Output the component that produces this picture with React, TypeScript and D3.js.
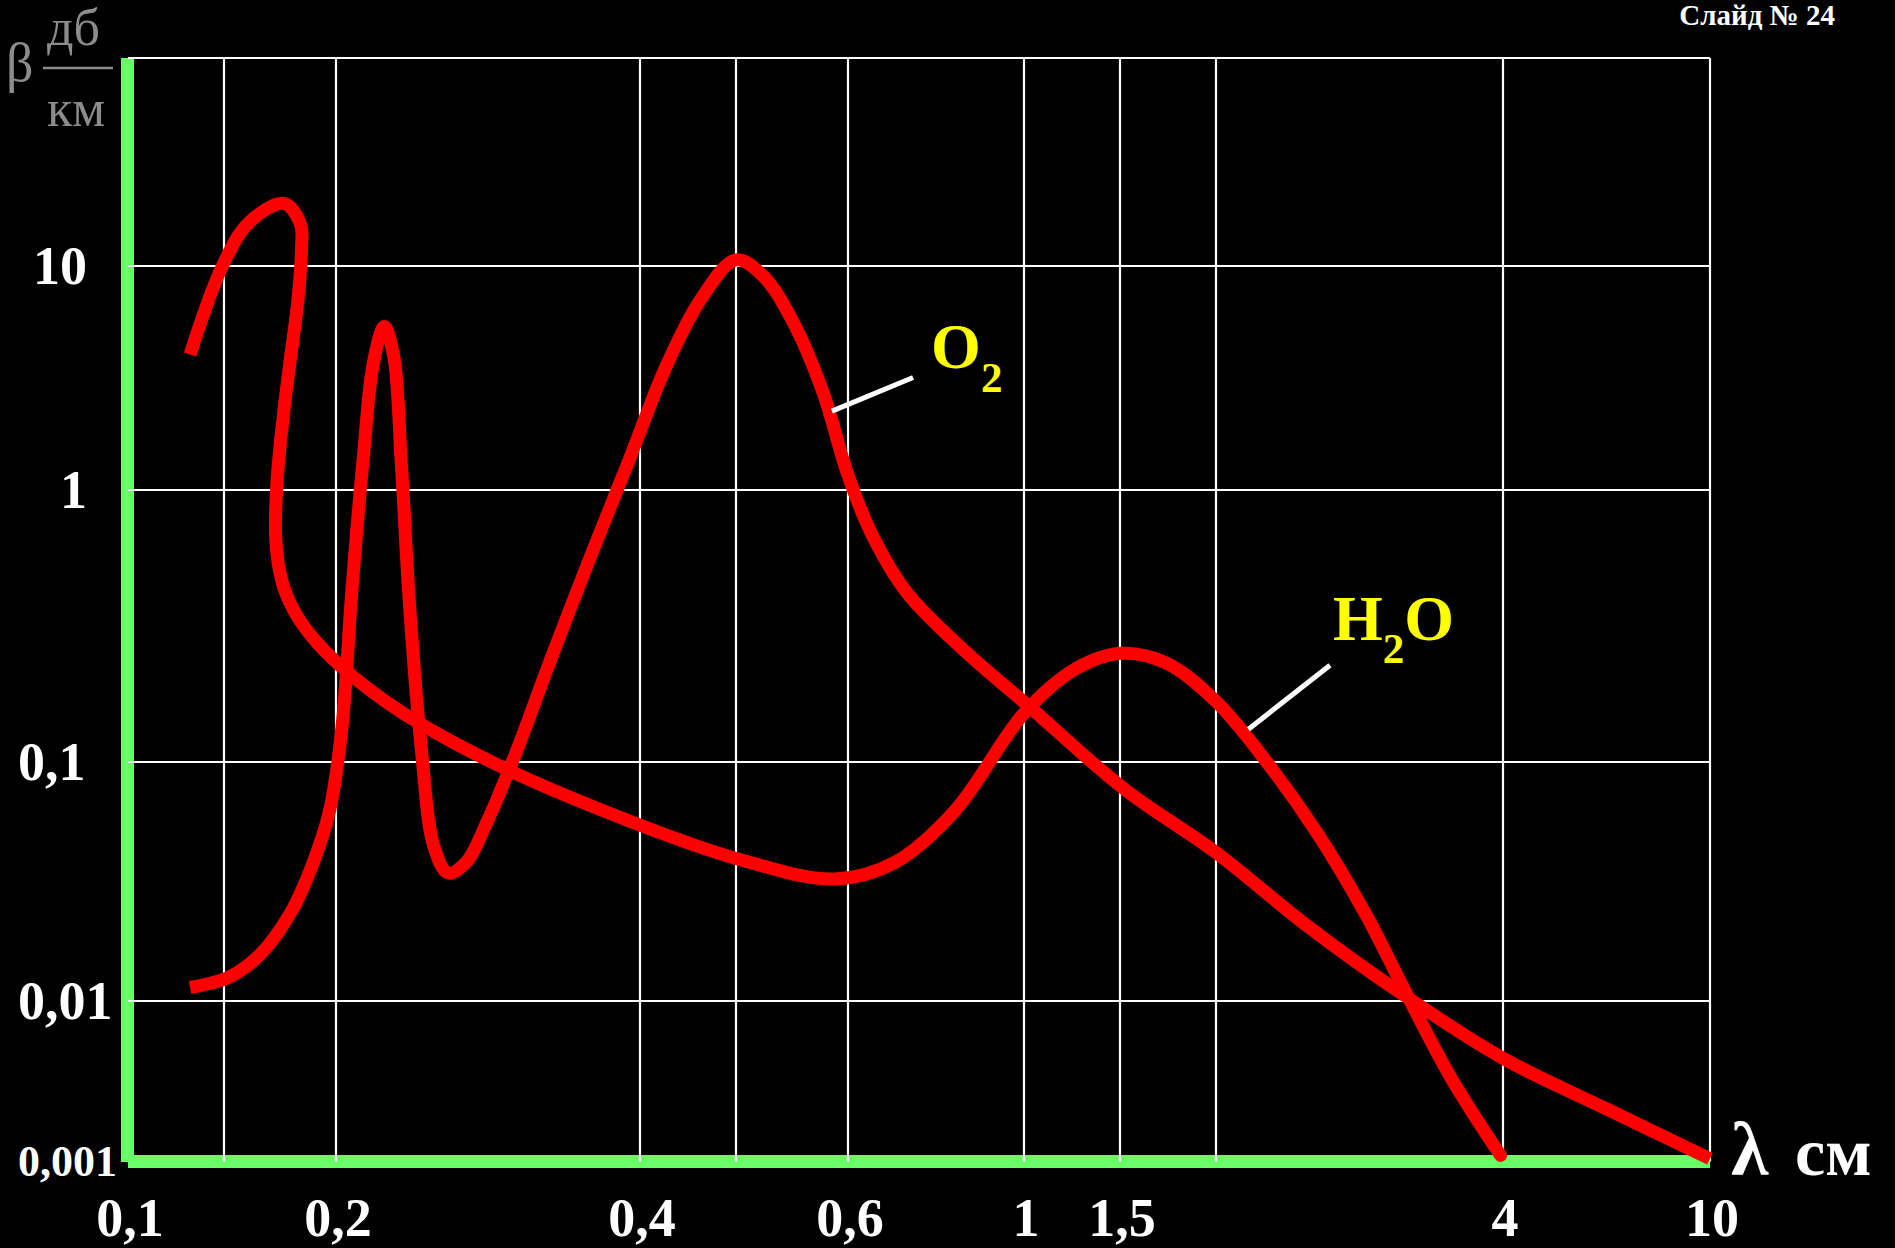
import React from "react";
import * as d3 from "d3";

const W = 1895;
const H = 1248;

// Axis ticks (hand-drawn slide: non-uniform spacing, mapped piecewise)
const xTickValues = [0.1, 0.15, 0.2, 0.4, 0.5, 0.6, 1, 1.5, 2, 4, 10];
const xTickLabels = ["0,1", "", "0,2", "0,4", "", "0,6", "1", "1,5", "", "4", "10"];
const yTickValues = [0.001, 0.01, 0.1, 1, 10, 100];
const yTickLabels = ["0,001", "0,01", "0,1", "1", "10", ""];

// H2O curve (λ in cm, β in dB/km)
const h2oLambda = [0.13, 0.149, 0.16, 0.175, 0.1825, 0.183, 0.1814, 0.178, 0.1746, 0.1718, 0.1713, 0.174, 0.1796, 0.1883, 0.2016, 0.2313, 0.2884, 0.3797, 0.5, 0.587, 0.688, 0.819, 1.0, 1.243, 1.505, 1.725, 2.0, 2.246, 2.559, 2.874, 3.135, 3.521, 3.977];
const h2oBeta = [4.03, 10, 16.2, 20.0, 16.0, 11.9, 7.06, 3.93, 2.11, 1.06, 0.664, 0.464, 0.359, 0.287, 0.227, 0.154, 0.0977, 0.0593, 0.0395, 0.0324, 0.0381, 0.0628, 0.151, 0.22, 0.251, 0.231, 0.167, 0.103, 0.0498, 0.0229, 0.01165, 0.00339, 0.00109];

// O2 curve
const o2Lambda = [0.13, 0.152, 0.1643, 0.178, 0.1883, 0.1968, 0.2028, 0.2073, 0.213, 0.2178, 0.2233, 0.2282, 0.232, 0.2365, 0.243, 0.25, 0.2583, 0.2692, 0.2821, 0.3005, 0.3264, 0.3593, 0.3903, 0.4239, 0.4603, 0.5, 0.5224, 0.548, 0.5763, 0.5989, 0.6412, 0.7121, 0.8485, 1.015, 1.517, 2.0, 2.486, 3.135, 4.0, 6.34, 10];
const o2Beta = [0.0114, 0.0126, 0.01556, 0.0234, 0.0373, 0.0628, 0.136, 0.419, 1.45, 3.7, 5.37, 3.93, 1.365, 0.378, 0.1107, 0.0443, 0.0343, 0.0381, 0.0559, 0.105, 0.239, 0.6, 1.365, 3.47, 7.06, 10.7, 9.05, 5.71, 2.71, 1.205, 0.699, 0.419, 0.251, 0.162, 0.0774, 0.0418, 0.0208, 0.0107, 0.0044, 0.00212, 0.00104];

// Annotation leader lines (data coordinates: [λ, β])
const o2Leader = [[0.5845, 2.25], [0.7248, 3.18]];
const h2oLeader = [[2.163, 0.132], [2.634, 0.227]];

const FONT = "'Liberation Serif', 'Times New Roman', serif";

export default function App() {
  const x = d3
    .scaleLinear()
    .domain(xTickValues.map(Math.log10))
    .range([128, 224, 336, 640, 736, 848, 1024, 1120, 1216, 1503, 1710]);
  const y = d3
    .scaleLinear()
    .domain(yTickValues.map(Math.log10))
    .range([1161.5, 1001, 762, 490, 266, 58]);

  const px = (v: number) => x(Math.log10(v));
  const py = (v: number) => y(Math.log10(v));

  const line = d3
    .line<[number, number]>()
    .x((d) => px(d[0]))
    .y((d) => py(d[1]))
    .curve(d3.curveCatmullRom.alpha(0.5));

  const h2oPts = h2oLambda.map((l, i) => [l, h2oBeta[i]] as [number, number]);
  const o2Pts = o2Lambda.map((l, i) => [l, o2Beta[i]] as [number, number]);
  const h2oLast = h2oPts[h2oPts.length - 1];

  const x0 = px(xTickValues[0]);
  const x1 = px(xTickValues[xTickValues.length - 1]);
  const y0 = py(yTickValues[0]);
  const y1 = py(yTickValues[yTickValues.length - 1]);

  const o2End = [px(o2Leader[1][0]), py(o2Leader[1][1])];
  const h2oEnd = [px(h2oLeader[1][0]), py(h2oLeader[1][1])];

  return (
    <div style={{ position: "absolute", left: 0, top: 0 }}>
      <svg width={W} height={H} style={{ display: "block" }} fontFamily={FONT}>
        <rect x={0} y={0} width={W} height={H} fill="#000" />

        {/* green axes */}
        <rect x={x0 - 7} y={y1} width={13} height={y0 - y1 + 0.5} fill="#66FF66" />
        <rect x={x0} y={y0 - 6.5} width={x1 - x0} height={13} fill="#66FF66" />

        {/* grid */}
        {yTickValues.slice(1).map((v, i) => (
          <line key={"gy" + i} x1={x0} x2={x1} y1={py(v)} y2={py(v)} stroke="#fff" strokeWidth={2.2} />
        ))}
        {xTickValues.slice(1).map((v, i) => (
          <line key={"gx" + i} x1={px(v)} x2={px(v)} y1={y1} y2={y0} stroke="#fff" strokeWidth={2.2} />
        ))}

        {/* curves */}
        <path d={line(h2oPts) || ""} fill="none" stroke="#FF0000" strokeWidth={13} strokeLinejoin="round" strokeLinecap="butt" />
        <circle cx={px(h2oLast[0])} cy={py(h2oLast[1])} r={6.5} fill="#FF0000" />
        <path d={line(o2Pts) || ""} fill="none" stroke="#FF0000" strokeWidth={13} strokeLinejoin="round" strokeLinecap="butt" />

        {/* leaders */}
        <line x1={px(o2Leader[0][0])} y1={py(o2Leader[0][1])} x2={o2End[0]} y2={o2End[1]} stroke="#fff" strokeWidth={5} />
        <line x1={px(h2oLeader[0][0])} y1={py(h2oLeader[0][1])} x2={h2oEnd[0]} y2={h2oEnd[1]} stroke="#fff" strokeWidth={5} />

        {/* series labels */}
        <text x={o2End[0] + 18} y={o2End[1] - 9} fill="#FFFF00" fontWeight="bold" fontSize={64}>
          O<tspan fontSize={43} dy={24}>2</tspan>
        </text>
        <text x={h2oEnd[0] + 3} y={h2oEnd[1] - 25} fill="#FFFF00" fontWeight="bold" fontSize={64}>
          H<tspan fontSize={43} dy={23}>2</tspan>
          <tspan fontSize={64} dy={-23}>O</tspan>
        </text>

        {/* y tick labels */}
        {yTickValues.map((v, i) =>
          yTickLabels[i] ? (
            <text
              key={"yl" + i}
              x={yTickLabels[i].startsWith("0,") ? 18 : 87}
              y={py(v) + (i === 0 ? 14 : 18)}
              textAnchor={yTickLabels[i].startsWith("0,") ? "start" : "end"}
              fill="#fff"
              fontWeight="bold"
              fontSize={i === 0 ? 44 : 54}
            >
              {yTickLabels[i]}
            </text>
          ) : null
        )}

        {/* x tick labels */}
        {xTickValues.map((v, i) =>
          xTickLabels[i] ? (
            <text key={"xl" + i} x={px(v) + 2} y={1236} textAnchor="middle" fill="#fff" fontWeight="bold" fontSize={54}>
              {xTickLabels[i]}
            </text>
          ) : null
        )}

        {/* axis titles */}
        <text x={1731} y={1175} fill="#fff" fontWeight="bold" fontSize={76}>
          λ
        </text>
        <text x={1795} y={1175} fill="#fff" fontWeight="bold" fontSize={68}>
          см
        </text>
        <text x={6} y={81} fill="#8c8c8c" fontSize={54}>
          β
        </text>
        <text x={47} y={45} fill="#8c8c8c" fontSize={52}>
          дб
        </text>
        <line x1={43} x2={113} y1={68} y2={68} stroke="#8c8c8c" strokeWidth={2.5} />
        <text x={47} y={126} fill="#8c8c8c" fontSize={52}>
          км
        </text>

        {/* slide number */}
        <text x={1835} y={25} textAnchor="end" fill="#fff" fontWeight="bold" fontSize={29}>
          Слайд № 24
        </text>
      </svg>
    </div>
  );
}
